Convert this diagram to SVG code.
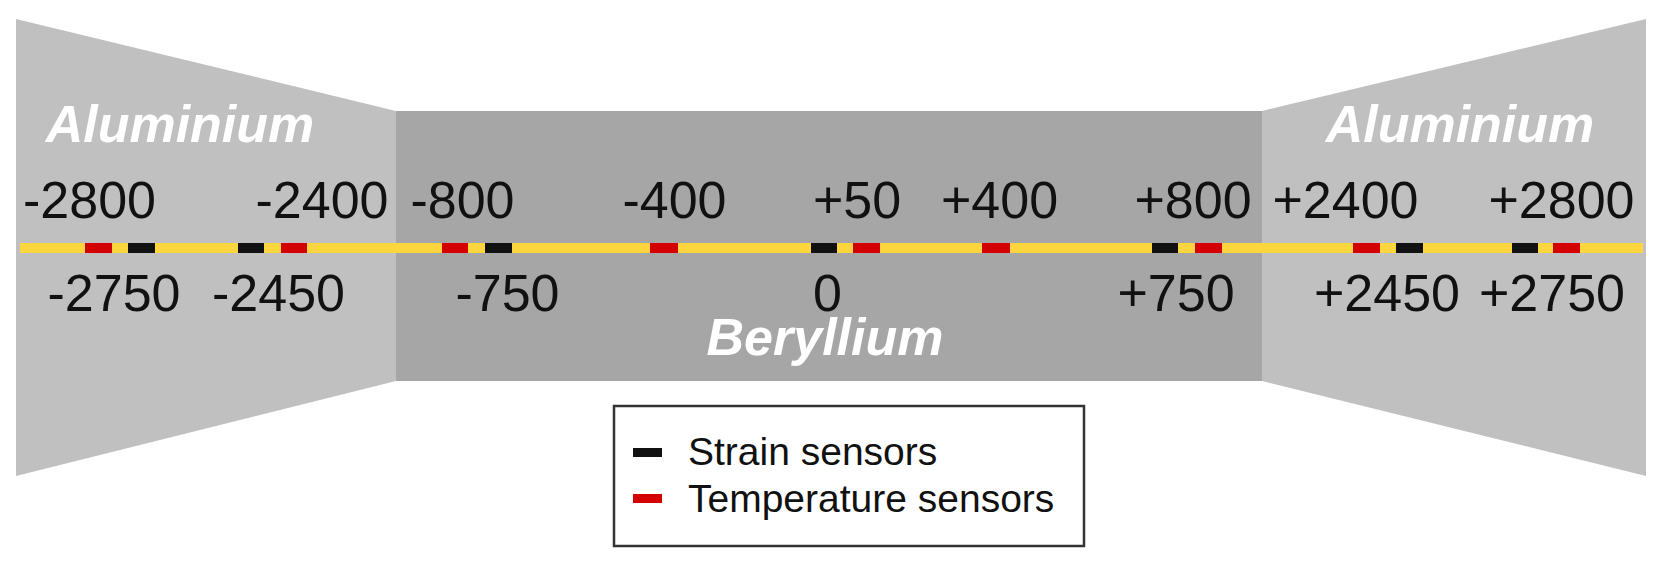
<svg xmlns="http://www.w3.org/2000/svg" width="1665" height="563" viewBox="0 0 1665 563">
<style>
.al{fill:#c0c0c0}
.be{fill:#a6a6a6}
.mat{font-family:"Liberation Sans",Arial,sans-serif;font-weight:bold;font-style:italic;font-size:52px;fill:#ffffff;text-anchor:middle}
.num{font-family:"Liberation Sans",Arial,sans-serif;font-size:52px;fill:#111111;text-anchor:middle}
.leg{font-family:"Liberation Sans",Arial,sans-serif;font-size:39px;fill:#111111}
.s{fill:#111111}
.t{fill:#d40000}
</style>
<rect width="1665" height="563" fill="#ffffff"/>
<g id="aluminium-left">
<polygon class="al" points="16,19 396,111 396,381 16,476"/>
<text class="mat" x="180" y="142">Aluminium</text>
</g>
<g id="beryllium">
<rect class="be" x="396" y="111" width="866" height="270"/>
<text class="mat" x="825" y="355">Beryllium</text>
</g>
<g id="aluminium-right">
<polygon class="al" points="1262,111 1646,19 1646,476 1262,381"/>
<text class="mat" x="1460" y="142">Aluminium</text>
</g>
<g id="fibre">
<rect x="20" y="243" width="1623" height="10" fill="#fdd53f"/>
</g>
<g id="sensors">
<rect class="t" x="85" y="243" width="27" height="10"/>
<rect class="s" x="128" y="243" width="27" height="10"/>
<rect class="s" x="238" y="243" width="26" height="10"/>
<rect class="t" x="281" y="243" width="26" height="10"/>
<rect class="t" x="442" y="243" width="26" height="10"/>
<rect class="s" x="485" y="243" width="27" height="10"/>
<rect class="t" x="650" y="243" width="28" height="10"/>
<rect class="s" x="811" y="243" width="26" height="10"/>
<rect class="t" x="853" y="243" width="27" height="10"/>
<rect class="t" x="982" y="243" width="28" height="10"/>
<rect class="s" x="1152" y="243" width="26" height="10"/>
<rect class="t" x="1195" y="243" width="27" height="10"/>
<rect class="t" x="1353" y="243" width="27" height="10"/>
<rect class="s" x="1396" y="243" width="27" height="10"/>
<rect class="s" x="1512" y="243" width="26" height="10"/>
<rect class="t" x="1553" y="243" width="27" height="10"/>
</g>
<g id="top-labels">
<text class="num" x="89.5" y="218">-2800</text>
<text class="num" x="322" y="218">-2400</text>
<text class="num" x="462.5" y="218">-800</text>
<text class="num" x="674.5" y="218">-400</text>
<text class="num" x="857" y="218">+50</text>
<text class="num" x="999.5" y="218">+400</text>
<text class="num" x="1193" y="218">+800</text>
<text class="num" x="1345.5" y="218">+2400</text>
<text class="num" x="1561.5" y="218">+2800</text>
</g>
<g id="bottom-labels">
<text class="num" x="114" y="311">-2750</text>
<text class="num" x="278.5" y="311">-2450</text>
<text class="num" x="507.5" y="311">-750</text>
<text class="num" x="827.5" y="311">0</text>
<text class="num" x="1176" y="311">+750</text>
<text class="num" x="1387" y="311">+2450</text>
<text class="num" x="1552" y="311">+2750</text>
</g>
<g id="legend">
<rect x="614" y="406" width="470" height="140" fill="#ffffff" stroke="#333333" stroke-width="2.5"/>
<rect class="s" x="633" y="448" width="29" height="9"/>
<rect class="t" x="633" y="494" width="29" height="9"/>
<text class="leg" x="688" y="465">Strain sensors</text>
<text class="leg" x="688" y="512">Temperature sensors</text>
</g>
</svg>
